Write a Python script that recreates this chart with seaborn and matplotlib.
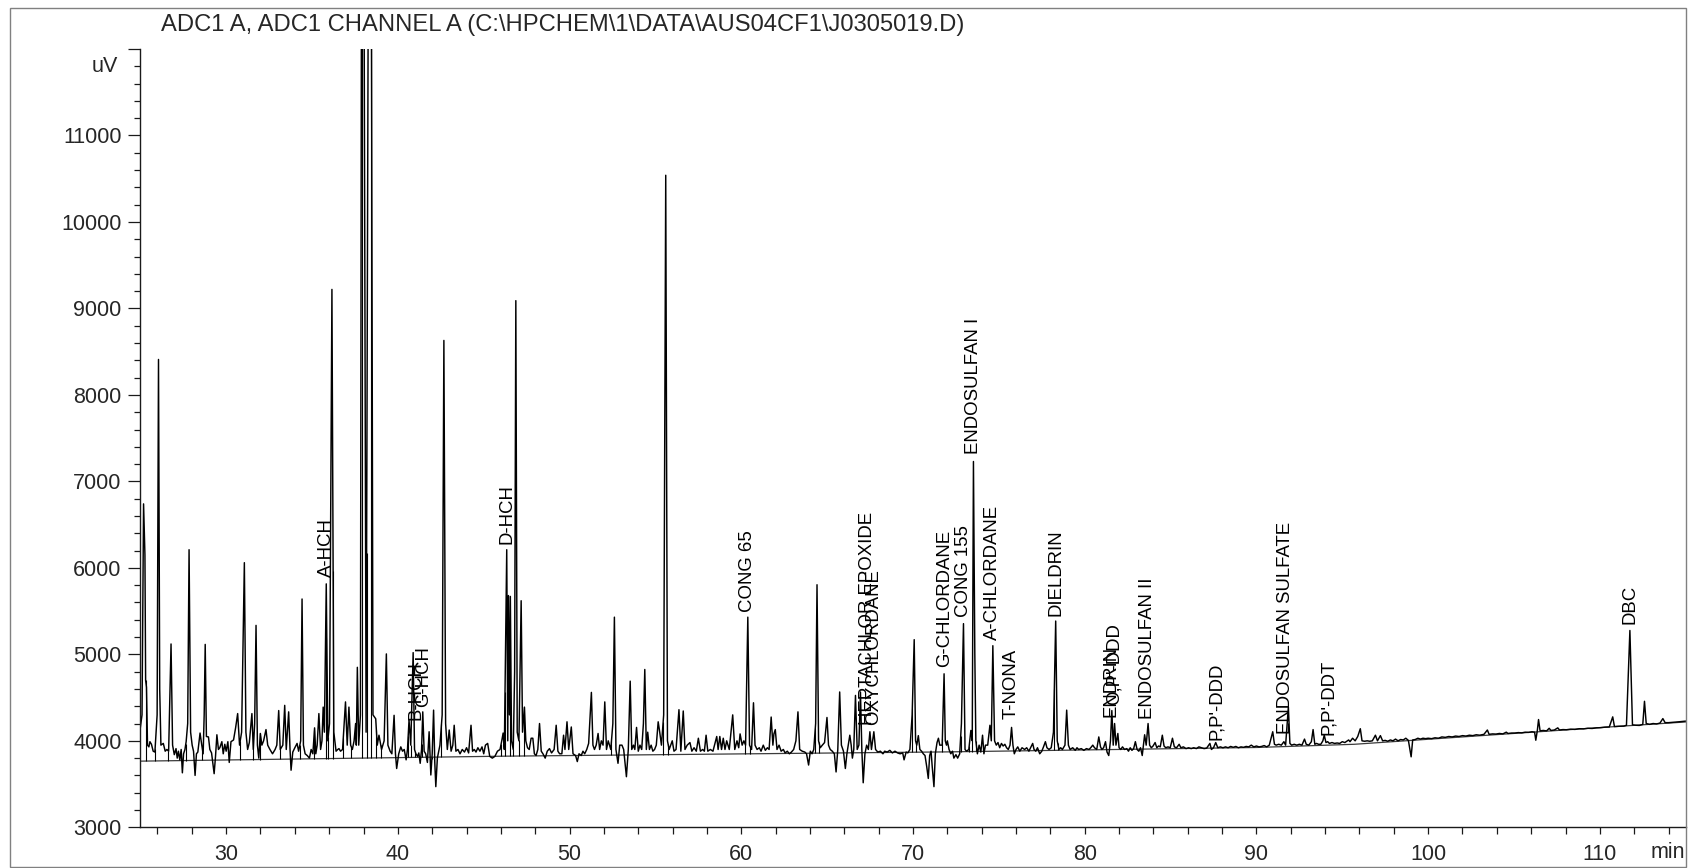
import numpy as np
import pandas as pd
import matplotlib
matplotlib.use("Agg")
import matplotlib.pyplot as plt
from matplotlib.patches import Rectangle
from matplotlib.ticker import MultipleLocator, FixedLocator
import seaborn as sns

title = r"ADC1 A, ADC1 CHANNEL A (C:\HPCHEM\1\DATA\AUS04CF1\J0305019.D)"

# chromatogram trace vertices (retention time in min, signal in uV)
trace_vertices = [
    (25.00, 4150), (25.10, 4300), (25.19, 6740), (25.27, 6150), (25.31, 4700), (25.36, 4620),
    (25.42, 3950), (25.50, 3930), (25.56, 3990), (25.65, 3960), (25.75, 3880), (25.85, 3870),
    (25.98, 4300), (26.06, 8410), (26.13, 4600), (26.20, 3950), (26.34, 3970), (26.45, 3880),
    (26.55, 3900), (26.65, 3880), (26.79, 5120), (26.88, 3950), (26.98, 3840), (27.08, 3910),
    (27.15, 3800), (27.22, 3880), (27.30, 3780), (27.38, 3900), (27.45, 3630), (27.52, 3850),
    (27.60, 3900), (27.67, 3990), (27.76, 4200), (27.84, 6210), (27.93, 4100), (28.02, 3950),
    (28.10, 3880), (28.19, 3600), (28.27, 3850), (28.35, 3870), (28.48, 4090), (28.58, 3950),
    (28.66, 3850), (28.72, 4300), (28.78, 5115), (28.85, 4050), (28.97, 4045), (29.05, 3900),
    (29.15, 3860), (29.30, 3620), (29.38, 3820), (29.46, 4070), (29.55, 3900), (29.63, 3920),
    (29.75, 3990), (29.83, 3850), (29.92, 3960), (30.00, 3880), (30.10, 3990), (30.18, 3750),
    (30.28, 3990), (30.43, 4010), (30.55, 4150), (30.67, 4315), (30.78, 3950), (30.90, 4100),
    (31.06, 6060), (31.15, 4100), (31.25, 3900), (31.35, 3980), (31.50, 4315), (31.58, 3900),
    (31.66, 4200), (31.74, 5335), (31.82, 3950), (31.90, 3800), (31.99, 4085), (32.08, 3950),
    (32.18, 4000), (32.32, 4130), (32.42, 3950), (32.55, 3900), (32.70, 3850), (32.85, 3900),
    (32.95, 3950), (33.06, 4350), (33.15, 3900), (33.30, 3950), (33.41, 4410), (33.50, 3900),
    (33.64, 4335), (33.72, 3900), (33.78, 3660), (33.88, 3870), (34.00, 3920), (34.13, 3970),
    (34.22, 3880), (34.34, 4000), (34.42, 5640), (34.50, 3950), (34.60, 3850), (34.72, 3830),
    (34.85, 3800), (34.95, 3900), (35.05, 3850), (35.15, 4150), (35.22, 3850), (35.30, 3950),
    (35.40, 4315), (35.50, 3900), (35.58, 4000), (35.65, 4390), (35.72, 4100), (35.83, 5815),
    (35.92, 4000), (36.02, 4200), (36.16, 9220), (36.27, 4100), (36.40, 3880), (36.50, 3900),
    (36.57, 3910), (36.66, 3880), (36.78, 3900), (36.95, 4450), (37.05, 3950), (37.15, 4390),
    (37.25, 3950), (37.35, 3900), (37.45, 4000), (37.54, 4200), (37.58, 3950), (37.64, 4850),
    (37.72, 3950), (37.82, 4300), (37.93, 20000), (38.15, 4100), (38.38, 20000), (38.55, 4300),
    (38.71, 4255), (38.80, 3950), (38.90, 4065), (39.05, 3900), (39.20, 4000), (39.33, 5005),
    (39.42, 3950), (39.55, 3880), (39.65, 3850), (39.78, 4295), (39.86, 3850), (39.93, 3680),
    (40.05, 3850), (40.17, 3930), (40.27, 3880), (40.37, 3900), (40.48, 3780), (40.56, 3900),
    (40.65, 4240), (40.75, 3950), (40.89, 5020), (40.97, 3900), (41.05, 3850), (41.15, 3820),
    (41.22, 3860), (41.30, 3740), (41.38, 3900), (41.45, 4335), (41.53, 3880), (41.62, 3850),
    (41.72, 3750), (41.82, 4105), (41.92, 3605), (42.00, 3850), (42.08, 4355), (42.15, 3750),
    (42.21, 3470), (42.30, 3800), (42.45, 3950), (42.58, 4300), (42.68, 8630), (42.78, 4200),
    (42.88, 3900), (42.99, 4125), (43.10, 3880), (43.20, 3950), (43.28, 4180), (43.38, 3880),
    (43.50, 3900), (43.62, 3850), (43.75, 3900), (43.88, 3870), (44.00, 3920), (44.12, 3860),
    (44.26, 4180), (44.35, 3880), (44.45, 3900), (44.55, 3870), (44.66, 3920), (44.78, 3880),
    (44.90, 3930), (45.00, 3850), (45.10, 3950), (45.23, 3970), (45.35, 3820), (45.50, 3800),
    (45.65, 3820), (45.80, 3880), (45.95, 3900), (46.05, 4000), (46.13, 4090), (46.20, 3900),
    (46.34, 6210), (46.40, 4000), (46.44, 5680), (46.50, 4300), (46.55, 5670), (46.62, 4000),
    (46.72, 3900), (46.80, 4800), (46.87, 9090), (46.95, 4100), (47.05, 4000), (47.18, 5620),
    (47.26, 4100), (47.32, 4250), (47.37, 4390), (47.45, 4000), (47.55, 3920), (47.65, 3900),
    (47.76, 4030), (47.86, 4030), (47.95, 3850), (48.05, 3830), (48.15, 3900), (48.25, 4200),
    (48.35, 3880), (48.45, 3850), (48.58, 3800), (48.70, 3880), (48.83, 3910), (48.95, 3860),
    (49.10, 3900), (49.22, 4180), (49.32, 3880), (49.42, 3850), (49.55, 3850), (49.65, 4065),
    (49.73, 3900), (49.85, 4220), (49.95, 3900), (50.10, 4160), (50.20, 3850), (50.35, 3830),
    (50.45, 3760), (50.55, 3850), (50.68, 3830), (50.78, 3880), (50.88, 3850), (51.00, 3900),
    (51.11, 3970), (51.27, 4560), (51.36, 3950), (51.45, 3900), (51.55, 3950), (51.66, 4085),
    (51.75, 3900), (51.85, 4000), (51.95, 3950), (52.05, 4450), (52.15, 3900), (52.25, 4000),
    (52.40, 3900), (52.52, 4200), (52.61, 5430), (52.70, 3900), (52.82, 3740), (52.92, 3950),
    (53.05, 3950), (53.15, 3900), (53.31, 3585), (53.42, 3900), (53.53, 4690), (53.62, 3900),
    (53.72, 3950), (53.80, 3900), (53.90, 4155), (54.00, 3880), (54.10, 3950), (54.20, 3900),
    (54.30, 4200), (54.38, 4825), (54.47, 3900), (54.55, 4100), (54.65, 3900), (54.75, 3950),
    (54.85, 3880), (54.95, 3900), (55.05, 3950), (55.16, 4220), (55.25, 4100), (55.35, 3950),
    (55.48, 4300), (55.60, 10540), (55.70, 4000), (55.80, 3900), (55.98, 4000), (56.08, 3880),
    (56.20, 3900), (56.37, 4360), (56.48, 3880), (56.62, 4345), (56.72, 3900), (56.85, 3950),
    (57.01, 3980), (57.12, 3880), (57.25, 3920), (57.38, 3880), (57.50, 4030), (57.62, 3880),
    (57.75, 3900), (57.85, 3880), (57.95, 4065), (58.05, 3880), (58.20, 3900), (58.35, 3880),
    (58.57, 4050), (58.65, 3900), (58.75, 4050), (58.85, 3900), (58.95, 4030), (59.05, 3900),
    (59.15, 4000), (59.30, 3900), (59.50, 4300), (59.62, 3900), (59.75, 4000), (59.85, 3920),
    (59.93, 4080), (60.05, 3950), (60.15, 4000), (60.25, 3950), (60.38, 5430), (60.48, 3950),
    (60.60, 3900), (60.71, 4440), (60.80, 3950), (60.92, 3900), (61.05, 3920), (61.15, 3880),
    (61.28, 3950), (61.40, 3890), (61.52, 3920), (61.62, 3900), (61.74, 4275), (61.84, 3950),
    (61.90, 4080), (61.98, 4130), (62.08, 3900), (62.20, 3950), (62.32, 3880), (62.45, 3900),
    (62.55, 3860), (62.68, 3880), (62.80, 3850), (62.92, 3870), (63.05, 3900), (63.18, 4000),
    (63.30, 4335), (63.40, 3900), (63.55, 3880), (63.70, 3870), (63.80, 3850), (63.92, 3720),
    (64.02, 3880), (64.12, 3850), (64.22, 3900), (64.33, 4200), (64.41, 5805), (64.50, 4000),
    (64.60, 3920), (64.72, 3950), (64.85, 3980), (64.99, 4270), (65.08, 3950), (65.18, 3900),
    (65.30, 3880), (65.42, 3850), (65.52, 3640), (65.62, 3900), (65.73, 4565), (65.83, 3950),
    (65.95, 3880), (66.06, 3680), (66.15, 3850), (66.32, 4065), (66.40, 3950), (66.47, 3800),
    (66.55, 3900), (66.65, 4525), (66.75, 3900), (66.85, 3950), (66.94, 4565), (67.02, 3900),
    (67.10, 3515), (67.20, 3850), (67.30, 3950), (67.40, 3900), (67.49, 4105), (67.58, 3900),
    (67.72, 4105), (67.82, 3900), (67.95, 3870), (68.10, 3880), (68.25, 3850), (68.35, 3880),
    (68.50, 3870), (68.65, 3890), (68.80, 3860), (68.95, 3880), (69.10, 3860), (69.25, 3850),
    (69.40, 3860), (69.48, 3780), (69.60, 3870), (69.70, 3860), (69.82, 3900), (69.95, 4300),
    (70.07, 5170), (70.15, 4000), (70.22, 3950), (70.31, 4060), (70.40, 3900), (70.50, 3880),
    (70.60, 3850), (70.70, 3830), (70.80, 3700), (70.89, 3565), (70.97, 3830), (71.05, 3880),
    (71.12, 3700), (71.22, 3470), (71.30, 3850), (71.40, 3980), (71.48, 4030), (71.56, 3950),
    (71.70, 3950), (71.81, 4775), (71.88, 4000), (71.95, 3950), (72.00, 4000), (72.10, 3900),
    (72.20, 3850), (72.30, 3880), (72.38, 3800), (72.50, 3840), (72.60, 3800), (72.72, 3850),
    (72.82, 4200), (72.94, 5355), (73.03, 3900), (73.12, 3880), (73.25, 3900), (73.37, 4120),
    (73.45, 4000), (73.52, 7230), (73.60, 5000), (73.66, 4000), (73.75, 3850), (73.85, 3950),
    (73.95, 3870), (74.05, 4065), (74.13, 3850), (74.22, 3950), (74.35, 3950), (74.48, 4180),
    (74.56, 4000), (74.65, 5100), (74.75, 4000), (74.85, 3950), (74.95, 3980), (75.05, 3920),
    (75.15, 3970), (75.25, 3940), (75.35, 3960), (75.45, 3920), (75.55, 3900), (75.65, 3950),
    (75.74, 4155), (75.82, 3950), (75.90, 3850), (76.00, 3900), (76.10, 3930), (76.22, 3880),
    (76.35, 3920), (76.50, 3900), (76.62, 3920), (76.75, 3880), (76.85, 3920), (76.97, 3970),
    (77.05, 3900), (77.15, 3880), (77.25, 3920), (77.38, 3850), (77.50, 3880), (77.60, 3930),
    (77.71, 3990), (77.80, 3920), (77.92, 3900), (78.05, 3920), (78.18, 4100), (78.31, 5385),
    (78.40, 4000), (78.50, 3900), (78.60, 3920), (78.70, 3900), (78.85, 3950), (78.95, 4355),
    (79.05, 3950), (79.15, 3900), (79.30, 3920), (79.45, 3890), (79.55, 3920), (79.65, 3900),
    (79.80, 3910), (79.95, 3890), (80.10, 3910), (80.25, 3900), (80.35, 3920), (80.47, 3950),
    (80.57, 3920), (80.70, 3900), (80.82, 4045), (80.92, 3930), (81.00, 3900), (81.10, 3920),
    (81.21, 3990), (81.30, 3870), (81.40, 3830), (81.50, 4000), (81.58, 4350), (81.66, 3950),
    (81.74, 4200), (81.82, 3950), (81.93, 4085), (82.00, 3920), (82.10, 3900), (82.20, 3930),
    (82.32, 3900), (82.45, 3910), (82.55, 3880), (82.65, 3920), (82.75, 3890), (82.85, 3910),
    (82.95, 3990), (83.05, 3900), (83.15, 3880), (83.25, 3920), (83.35, 3830), (83.42, 3950),
    (83.49, 4070), (83.58, 3950), (83.69, 4200), (83.78, 3950), (83.88, 3920), (83.98, 3940),
    (84.10, 3980), (84.20, 3920), (84.30, 3940), (84.40, 3930), (84.52, 4065), (84.62, 3940),
    (84.72, 3920), (84.85, 3930), (84.98, 3920), (85.11, 4030), (85.22, 3930), (85.35, 3920),
    (85.50, 3960), (85.60, 3920), (85.75, 3930), (85.90, 3910), (86.05, 3920), (86.20, 3910),
    (86.35, 3920), (86.50, 3910), (86.65, 3930), (86.80, 3920), (86.95, 3910), (87.10, 3915),
    (87.29, 3970), (87.38, 3900), (87.50, 3920), (87.63, 3980), (87.75, 3920), (87.90, 3930),
    (88.05, 3920), (88.20, 3930), (88.35, 3920), (88.50, 3935), (88.65, 3925), (88.80, 3935),
    (88.95, 3920), (89.10, 3930), (89.25, 3925), (89.40, 3935), (89.55, 3930), (89.70, 3950),
    (89.85, 3930), (90.00, 3940), (90.15, 3930), (90.30, 3935), (90.45, 3945), (90.60, 3930),
    (90.75, 3950), (90.95, 4105), (91.05, 3960), (91.15, 3950), (91.30, 3960), (91.45, 3950),
    (91.60, 3990), (91.70, 3950), (91.86, 4390), (91.95, 3970), (92.05, 3950), (92.20, 3960),
    (92.35, 3950), (92.50, 3960), (92.65, 3950), (92.80, 4020), (92.90, 3960), (93.05, 3950),
    (93.20, 3990), (93.30, 4130), (93.40, 3960), (93.50, 3970), (93.62, 3960), (93.75, 3960),
    (93.87, 4000), (93.95, 4065), (94.05, 3980), (94.15, 3990), (94.25, 3970), (94.40, 3980),
    (94.55, 3970), (94.70, 3975), (94.85, 3970), (95.00, 3990), (95.15, 3980), (95.37, 4010),
    (95.45, 3990), (95.60, 4030), (95.75, 4000), (95.90, 4050), (96.05, 4140), (96.15, 4000),
    (96.30, 3995), (96.45, 4000), (96.60, 3995), (96.75, 4000), (96.93, 4065), (97.05, 4000),
    (97.22, 4060), (97.35, 4000), (97.50, 4005), (97.65, 3995), (97.80, 4010), (97.95, 4000),
    (98.10, 4020), (98.25, 4000), (98.40, 4015), (98.55, 4010), (98.70, 4030), (98.85, 4005),
    (99.01, 3815), (99.10, 4010), (99.25, 4015), (99.40, 4030), (99.55, 4020), (99.70, 4030),
    (99.85, 4025), (100.0, 4030), (100.2, 4025), (100.4, 4035), (100.6, 4030), (100.8, 4045),
    (101.0, 4040), (101.2, 4050), (101.4, 4045), (101.6, 4055), (101.8, 4050), (102.0, 4060),
    (102.2, 4055), (102.4, 4065), (102.6, 4060), (102.8, 4070), (103.0, 4065), (103.25, 4075),
    (103.45, 4125), (103.55, 4075), (103.75, 4080), (103.95, 4078), (104.15, 4085), (104.35, 4080),
    (104.55, 4100), (104.65, 4085), (104.85, 4090), (105.05, 4090), (105.25, 4095), (105.45, 4092),
    (105.65, 4100), (105.85, 4098), (106.05, 4105), (106.20, 4100), (106.27, 4007), (106.36, 4120),
    (106.43, 4246), (106.52, 4115), (106.70, 4120), (106.90, 4115), (107.05, 4145), (107.15, 4120),
    (107.35, 4125), (107.55, 4150), (107.65, 4125), (107.85, 4130), (108.05, 4128), (108.30, 4135),
    (108.55, 4132), (108.80, 4140), (109.05, 4138), (109.30, 4145), (109.55, 4143), (109.80, 4150),
    (110.05, 4152), (110.30, 4158), (110.55, 4160), (110.75, 4277), (110.85, 4165), (111.10, 4168),
    (111.40, 4170), (111.55, 4180), (111.75, 5276), (111.90, 4185), (112.10, 4180), (112.30, 4178),
    (112.50, 4190), (112.60, 4457), (112.70, 4200), (112.90, 4190), (113.10, 4200), (113.30, 4195),
    (113.50, 4205), (113.67, 4257), (113.80, 4210), (114.00, 4210), (114.30, 4215), (114.60, 4220),
    (115.00, 4228),
]

# integration baseline drawn under the trace
baseline_time = [25, 46, 72, 90, 95.7, 100, 110, 115]
baseline_uv = [3765, 3822, 3872, 3923, 3960, 4018, 4153, 4218]

# peak-boundary drop lines (min)
drop_times = [25.31, 25.86, 26.64, 27.65, 28.60, 30.82, 31.54, 31.99, 33.16, 34.29, 35.14,
              35.79, 35.94, 36.23, 36.82, 37.29, 37.89, 38.18, 38.45, 38.75, 39.00, 40.60,
              40.75, 41.02, 41.39, 41.98, 42.54, 46.01, 46.24, 46.51, 46.71, 47.04, 47.37,
              52.44, 52.73, 55.45, 55.74, 60.22, 60.51, 64.31, 64.51, 69.96, 70.15, 71.71,
              72.78, 73.27, 73.43, 73.66, 78.23, 78.43]

# compound labels: name, retention time, bottom of label (uV)
label_names = ["A-HCH", "B-HCH", "G-HCH", "D-HCH", "CONG 65", "HEPTACHLOR EPOXIDE",
               "OXYCHLORDANE", "G-CHLORDANE", "CONG 155", "ENDOSULFAN I", "A-CHLORDANE",
               "T-NONA", "DIELDRIN", "ENDRIN", "O,P'-DDD", "ENDOSULFAN II", "P,P'-DDD",
               "ENDOSULFAN SULFATE", "P,P'-DDT", "DBC"]
label_time = [35.83, 41.03, 41.50, 46.34, 60.35, 67.35, 67.70, 71.82, 72.94, 73.52, 74.63,
              75.72, 78.31, 81.54, 81.74, 83.67, 87.65, 91.67, 94.20, 111.75]
label_uv = [5890, 4240, 4390, 6276, 5490, 4180, 4180, 4853, 5430, 7314, 5169,
            4257, 5449, 4276, 4411, 4257, 4007, 4084, 4070, 5353]

x_ticks = [30, 40, 50, 60, 70, 80, 90, 100, 110]
y_ticks = [3000, 4000, 5000, 6000, 7000, 8000, 9000, 10000, 11000, 12000]
y_tick_labels = ["3000", "4000", "5000", "6000", "7000", "8000", "9000", "10000", "11000", ""]

sns.set_theme(style="white")
plt.rcParams["font.family"] = ["Liberation Sans", "DejaVu Sans"]

W, H = 1702, 868
fig = plt.figure(figsize=(W / 100, H / 100), dpi=100)
ax = fig.add_axes([140.3 / W, 1 - 827.3 / H, (1685.7 - 140.3) / W, (827.3 - 49) / H])

df = pd.DataFrame(trace_vertices, columns=["time", "uv"])
sns.lineplot(x=baseline_time, y=baseline_uv, ax=ax, color="#3c3c3c", lw=0.9,
             estimator=None, sort=False)
sns.lineplot(data=df, x="time", y="uv", ax=ax, color="black", lw=1.05,
             estimator=None, sort=False)

tr = np.interp(drop_times, df["time"], df["uv"])
bl = np.interp(drop_times, baseline_time, baseline_uv)
ax.vlines(drop_times, bl, tr, color="black", lw=0.8)

for name, t, v in zip(label_names, label_time, label_uv):
    ax.text(t, v, name, rotation=90, ha="center", va="bottom", fontsize=13.4, color="black")

ax.set_xlim(25, 115)
ax.set_ylim(3000, 12000)
ax.set_xlabel("")
ax.set_ylabel("")
ax.xaxis.set_major_locator(FixedLocator(x_ticks))
ax.yaxis.set_major_locator(FixedLocator(y_ticks))
ax.xaxis.set_minor_locator(MultipleLocator(2))
ax.yaxis.set_minor_locator(MultipleLocator(200))
ax.set_xticklabels([str(v) for v in x_ticks])
ax.set_yticklabels(y_tick_labels)

for s in ["top", "right"]:
    ax.spines[s].set_visible(False)
for s in ["left", "bottom"]:
    ax.spines[s].set_color("#1a1a1a")
    ax.spines[s].set_linewidth(1.0)

ax.tick_params(axis="y", which="major", length=8.4, width=0.9, color="#1a1a1a",
               direction="out", pad=5, labelsize=15.5, left=True)
ax.tick_params(axis="y", which="minor", length=4.2, width=0.9, color="#1a1a1a",
               direction="out", left=True)
ax.tick_params(axis="x", which="both", length=4.8, width=0.9, color="#1a1a1a",
               direction="out", pad=7, labelsize=15.5, bottom=True)

fig.text(160.6 / W, 1 - 30.5 / H, title, ha="left", va="baseline", fontsize=17.1)
fig.text(118 / W, 1 - 67 / H, "uV", ha="right", va="center", fontsize=15.5)
fig.text(1668 / W, 1 - 853 / H, "min", ha="center", va="center", fontsize=15.5)

fig.add_artist(Rectangle((10 / W, 1 - 867 / H), (1686 - 10) / W, (867 - 8) / H,
                         transform=fig.transFigure, fill=False, ec="#808080", lw=1.0))

fig.savefig("out.png", dpi=100)
